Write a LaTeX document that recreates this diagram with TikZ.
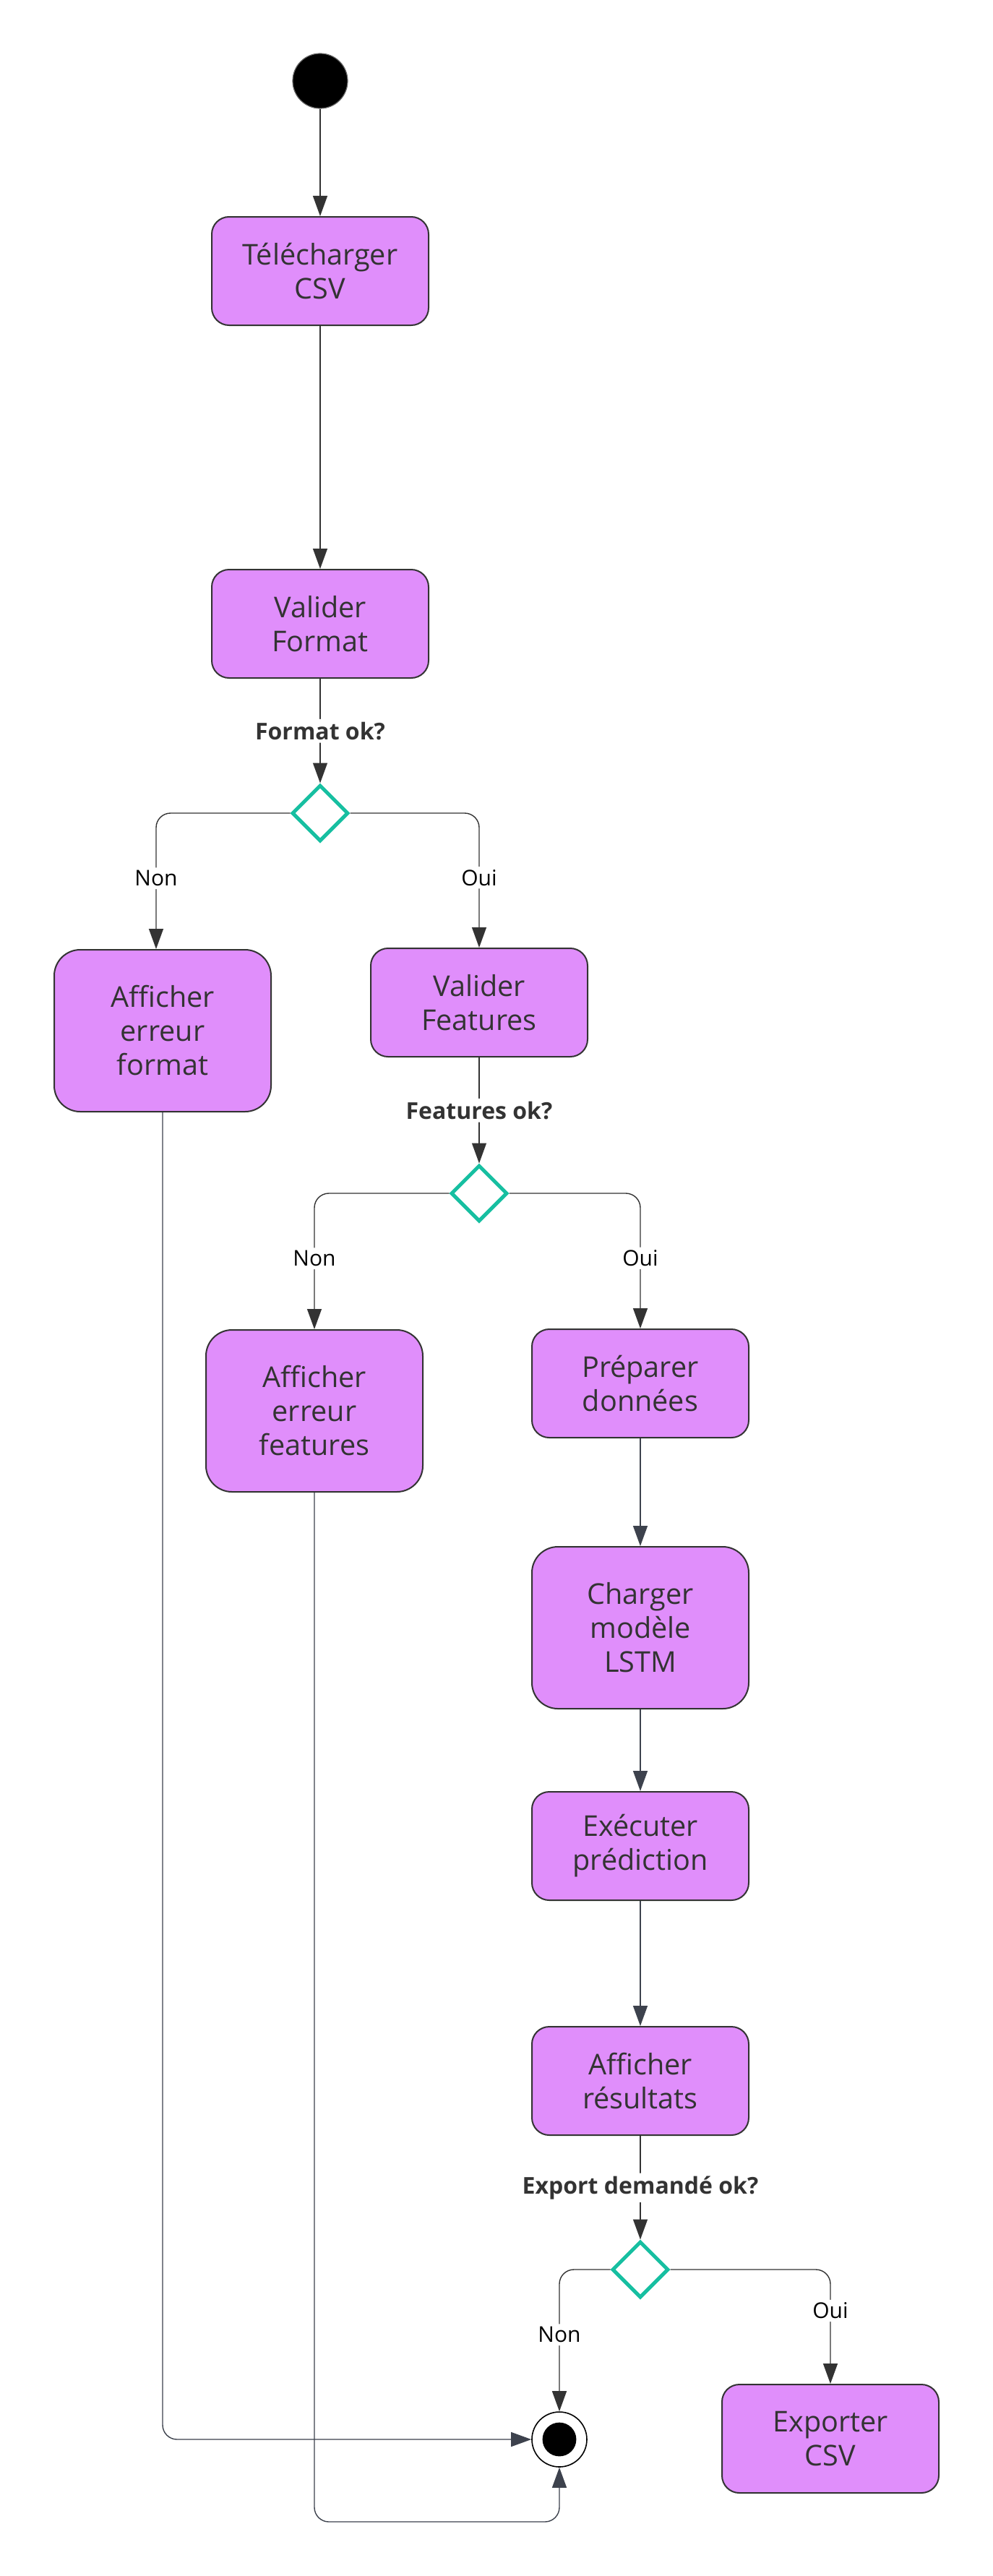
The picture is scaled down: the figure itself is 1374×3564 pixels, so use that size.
\documentclass[tikz,border=0pt]{standalone}
\usepackage{fontspec}
\setmainfont{Open Sans}
\usetikzlibrary{positioning}
\usetikzlibrary{shapes.geometric}
\usetikzlibrary{arrows.meta}
\definecolor{boxfill}{HTML}{E08EFB}
\definecolor{boxline}{HTML}{333333}
\definecolor{choiceline}{HTML}{17BFA1}
\definecolor{endline}{HTML}{3D424D}
\tikzset{>={Triangle[length=14pt,width=10pt]}}
\tikzset{
	% activity boxes
	state/.style={draw=boxline,fill=boxfill,line width=1pt,rounded corners=12pt,
		minimum width=150pt,minimum height=75pt,inner sep=0pt,align=center,
		text=boxline,font=\fontsize{19.8}{23.5}\selectfont},
	tallstate/.style={state,minimum height=112pt,rounded corners=18pt},
	% choice diamond
	choice/.style={diamond,draw=choiceline,fill=white,line width=2.5pt,
		minimum width=39pt,minimum height=39pt,inner sep=0pt},
	% start and end
	startdot/.style={circle,fill=black,draw=black!60,line width=0.6pt,minimum size=38pt,inner sep=0pt},
	stopdot/.style={circle,fill=white,draw=black,line width=0.8pt,minimum size=38pt,inner sep=0pt,
		path picture={\fill[black] (path picture bounding box.center) circle (11.7pt);}},
	% connectors and their labels
	flow/.style={draw=boxline,line width=0.7pt,->,rounded corners=10pt},
	guard/.style={fill=white,inner sep=2pt,text=boxline,font=\bfseries\fontsize{16}{19}\selectfont},
	branch/.style={fill=white,inner sep=2pt,text=black,font=\fontsize{15}{18}\selectfont},
}
\begin{document}
\begin{tikzpicture}[x=0.5pt,y=-0.5pt]
\fill[white] (0,0) rectangle (1374,3564);
\useasboundingbox (0,0) rectangle (1374,3564);
% the activities
\node[startdot] (start) at (443,112) {};
\node[state] (dl) at (443,375) {Télécharger\\CSV};
\node[state] (vf) at (443,863) {Valider\\Format};
\node[choice] (d1) at (443,1125) {};
\node[tallstate] (aef) at (225,1426) {Afficher\\erreur\\format};
\node[state] (vfe) at (663,1387) {Valider\\Features};
\node[choice] (d2) at (663,1651) {};
\node[tallstate] (aeff) at (435,1952) {Afficher\\erreur\\features};
\node[state] (prep) at (886,1914) {Préparer\\données};
\node[tallstate] (charg) at (886,2252) {Charger\\modèle\\LSTM};
\node[state] (exec) at (886,2554) {Exécuter\\prédiction};
\node[state] (affr) at (886,2879) {Afficher\\résultats};
\node[choice] (d3) at (886,3140) {};
\node[stopdot] (stop) at (774,3375) {};
\node[state] (exp) at (1149,3374) {Exporter\\CSV};
\coordinate (loop) at (435,3489);
% the main line
\draw[flow] (start) -- (dl);
\draw[flow] (dl) -- (vf);
\draw[flow] (vf) -- node[guard] {Format ok?} (d1);
\draw[flow] (d1.west) -| node[branch,pos=0.74] {Non} ([xshift=-4.5pt]aef.north);
\draw[flow] (d1.east) -| node[branch,pos=0.74] {Oui} (vfe.north);
\draw[flow] (vfe) -- node[guard] {Features ok?} (d2);
\draw[flow] (d2.west) -| node[branch,pos=0.74] {Non} (aeff.north);
\draw[flow] (d2.east) -| node[branch,pos=0.74] {Oui} (prep.north);
\draw[flow,draw=endline] (prep) -- (charg);
\draw[flow,draw=endline] (charg) -- (exec);
\draw[flow,draw=endline] (exec) -- (affr);
\draw[flow] (affr) -- node[guard] {Export demandé ok?} (d3);
\draw[flow] (d3.west) -| node[branch,pos=0.73] {Non} (stop.north);
\draw[flow] (d3.east) -| node[branch,pos=0.68] {Oui} (exp.north);
% the errors go to the end
\draw[flow,draw=endline] (aef.south) |- (stop.west);
\draw[flow,draw=endline] (aeff.south) -- (loop) -| (stop.south);
\end{tikzpicture}
\end{document}
